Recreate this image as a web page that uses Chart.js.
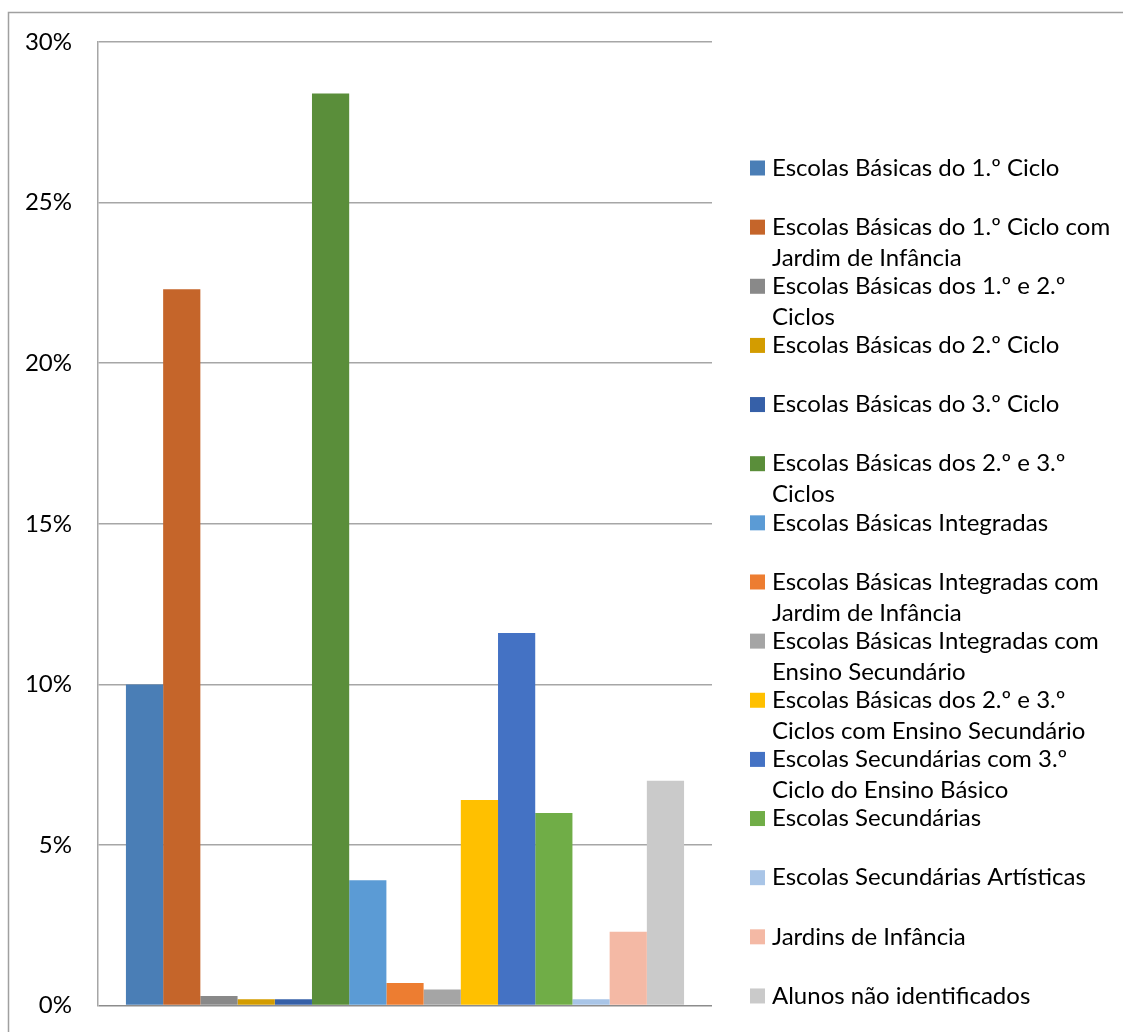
<!DOCTYPE html>
<html>
<head>
<meta charset="utf-8">
<script src="https://cdn.jsdelivr.net/npm/chart.js@4.4.1/dist/chart.umd.min.js"></script>
<style>
  html, body { margin: 0; padding: 0; background: #fff; overflow: hidden; }
  #wrap { position: relative; width: 1123px; height: 1032px; overflow: hidden; }
</style>
</head>
<body>
<div id="wrap"><canvas id="chart" width="1123" height="1046"></canvas></div>
<script>
// series names (line breaks as in the original legend)
const seriesNames = [
  'Escolas Básicas do 1.º Ciclo',
  'Escolas Básicas do 1.º Ciclo com\nJardim de Infância',
  'Escolas Básicas dos 1.º e 2.º\nCiclos',
  'Escolas Básicas do 2.º Ciclo',
  'Escolas Básicas do 3.º Ciclo',
  'Escolas Básicas dos 2.º e 3.º\nCiclos',
  'Escolas Básicas Integradas',
  'Escolas Básicas Integradas com\nJardim de Infância',
  'Escolas Básicas Integradas com\nEnsino Secundário',
  'Escolas Básicas dos 2.º e 3.º\nCiclos com Ensino Secundário',
  'Escolas Secundárias com 3.º\nCiclo do Ensino Básico',
  'Escolas Secundárias',
  'Escolas Secundárias Artísticas',
  'Jardins de Infância',
  'Alunos não identificados'
];

// percentage of students per school type
const seriesValues = [10.0, 22.3, 0.3, 0.2, 0.2, 28.4, 3.9, 0.7, 0.5, 6.4, 11.6, 6.0, 0.2, 2.3, 7.0];

const seriesColors = [
  '#4A7EB6', '#C5652A', '#898989', '#D39C00', '#3660A8',
  '#5A8E3A', '#5B9BD5', '#ED7D31', '#A5A5A5', '#FFC000',
  '#4472C4', '#70AD47', '#A9C5E7', '#F4B9A5', '#CACACA'
];

const categories = [''];
const yTicks = [0, 5, 10, 15, 20, 25, 30];

const FONT = 'Lato, "Liberation Sans", sans-serif';

const datasets = seriesNames.map((name, i) => ({
  label: name,
  data: [seriesValues[i]],
  backgroundColor: seriesColors[i],
  borderWidth: 0,
  categoryPercentage: 0.909,
  barPercentage: 1.0,
}));

// outer frame of the chart object
const framePlugin = {
  id: 'frame',
  beforeDraw(chart) {
    const ctx = chart.ctx;
    ctx.save();
    ctx.strokeStyle = '#A0A0A0';
    ctx.lineWidth = 1.5;
    ctx.beginPath();
    ctx.moveTo(8.5, 1060);
    ctx.lineTo(8.5, 12.5);
    ctx.lineTo(1130, 12.5);
    ctx.stroke();
    ctx.restore();
  }
};

// legend on the right, with wrapped labels like the original
const sideLegend = {
  id: 'sideLegend',
  afterDraw(chart) {
    const ctx = chart.ctx;
    const startY = 168;
    const step = 59.14;
    const boxX = 750;
    const textX = 772;
    const lineH = 31;
    ctx.save();
    ctx.font = '24px ' + FONT;
    ctx.textBaseline = 'middle';
    ctx.textAlign = 'left';
    chart.data.datasets.forEach((ds, i) => {
      const y = startY + i * step;
      ctx.fillStyle = ds.backgroundColor;
      ctx.fillRect(boxX, y - 7.5, 15, 15);
      ctx.fillStyle = '#000';
      ds.label.split('\n').forEach((line, j) => {
        ctx.fillText(line, textX, y + j * lineH);
      });
    });
    ctx.restore();
  }
};

new Chart(document.getElementById('chart'), {
  type: 'bar',
  data: {
    labels: categories,
    datasets: datasets,
  },
  options: {
    responsive: false,
    animation: false,
    layout: {
      padding: { left: 0, top: 42, right: 411, bottom: 0 },
    },
    plugins: {
      legend: { display: false },
      tooltip: { enabled: false },
    },
    scales: {
      x: {
        display: false,
      },
      y: {
        min: 0,
        max: 30,
        afterFit(scale) { scale.width = 98; },
        afterBuildTicks(scale) { scale.ticks = yTicks.map(v => ({ value: v })); },
        border: { display: true, color: '#A6A6A6', width: 1.5 },
        grid: {
          drawTicks: false,
          lineWidth: 1.5,
          color: ctx => ctx.tick && ctx.tick.value === 0 ? '#8C8C8C' : '#A6A6A6',
        },
        ticks: {
          padding: 26,
          color: '#000',
          font: { family: FONT, size: 24 },
          callback: v => v + '%',
        },
      },
    },
  },
  plugins: [framePlugin, sideLegend],
});
</script>
</body>
</html>
